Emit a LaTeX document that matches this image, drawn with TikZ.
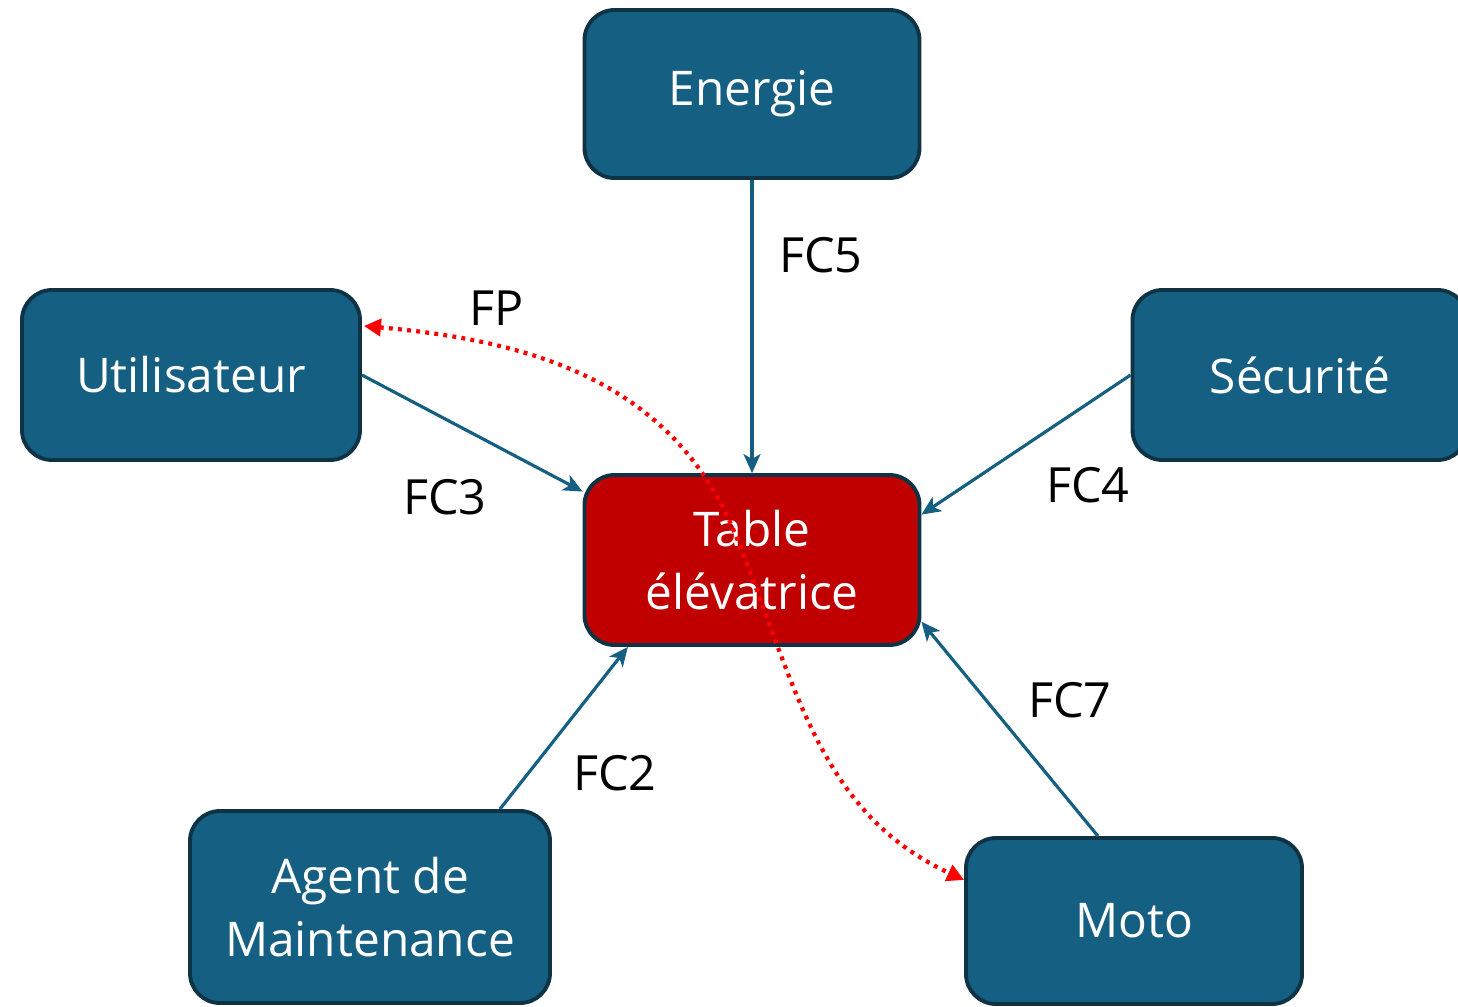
\documentclass[tikz,border=0pt]{standalone}
\usepackage{fontspec}
\setmainfont{Open Sans}
\usepackage{xcolor}
\definecolor{BoxTeal}{HTML}{156082}
\definecolor{BoxEdge}{HTML}{0E3345}
\definecolor{BoxRed}{HTML}{C00000}
\definecolor{FlowRed}{HTML}{FF0000}
\usetikzlibrary{arrows.meta, positioning, calc}
\tikzset{
    % Box styles with rounded corners
    component/.style={
        rectangle,
        rounded corners=0.3cm,
        draw=BoxEdge,
        fill=BoxTeal,
        line width=1.1pt,
        minimum width=3.35cm,
        minimum height=1.68cm,
        align=center,
        text=white,
        font=\fontsize{13.6}{17.8}\selectfont
    },
    component red/.style={
        component,
        fill=BoxRed
    },
    flow label/.style={
        inner sep=0pt,
        text=black,
        font=\fontsize{13.8}{17}\selectfont
    },
    arrow style/.style={
        -{Stealth[length=1.9mm, width=1.7mm, inset=0.5mm]},
        line width=0.9pt,
        BoxTeal
    },
    fp arrow style/.style={
        {Triangle[length=1.7mm, width=1.7mm]}-{Triangle[length=1.7mm, width=1.7mm]},
        line width=1.2pt,
        dash pattern=on 1.1pt off 1.5pt,
        FlowRed
    }
}

\begin{document}
\begin{tikzpicture}
    \useasboundingbox (0, 0) rectangle (14.58, 10.06);

    \node[component] (energie) at (7.52, 9.12) {Energie};
    \node[component, minimum width=3.38cm, minimum height=1.70cm] (utilisateur) at (1.91, 6.31) {Utilisateur};
    \node[component, minimum height=1.70cm] (securite) at (13.00, 6.31) {Sécurité};
    \node[component red, minimum height=1.70cm] (table) at (7.52, 4.46) {Table\\élévatrice};
    \node[component, minimum width=3.60cm, minimum height=1.92cm] (agent) at (3.70, 0.99) {Agent de\\Maintenance};
    \node[component, minimum width=3.36cm, minimum height=1.66cm] (moto) at (11.34, 0.85) {Moto};

    \draw[arrow style] (energie) -- (table);
    \draw[arrow style] (utilisateur.east) -- (table.158);
    \draw[arrow style] (securite.west) -- (table.15);
    \draw[arrow style] (agent.37) -- (table.215);
    \draw[arrow style] (moto.113) -- (table.-20);

    % principal function, drawn over the table
    \draw[fp arrow style] ($(utilisateur.east)+(0.02, 0.49)$)
        to[out=-5, in=112] (7.36, 4.70)
        to[out=-68, in=155] ($(moto.west)+(0, 0.41)$);

    \node[flow label] (fc5) at (8.21, 7.51) {FC5};
    \node[flow label] (fp) at (4.97, 6.98) {FP};
    \node[flow label] (fc3) at (4.45, 5.09) {FC3};
    \node[flow label] (fc4) at (10.88, 5.21) {FC4};
    \node[flow label] (fc2) at (6.15, 2.33) {FC2};
    \node[flow label] (fc7) at (10.70, 3.06) {FC7};
\end{tikzpicture}
\end{document}
